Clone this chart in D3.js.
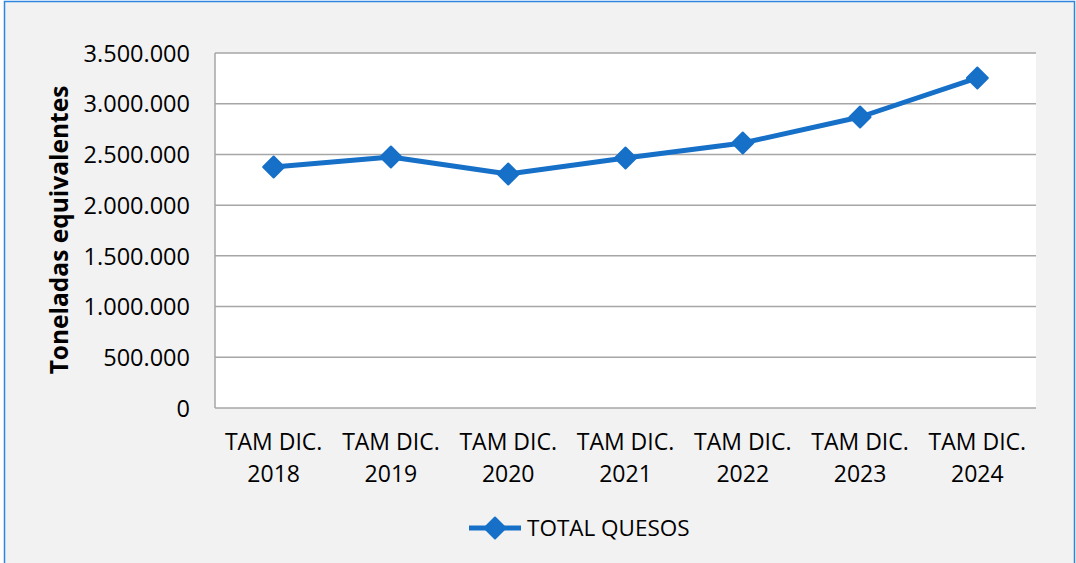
<!DOCTYPE html>
<html><head><meta charset="utf-8">
<script src="https://cdn.jsdelivr.net/npm/d3@7"></script>
<style>body{margin:0;background:#fff;}svg{display:block;}</style>
</head><body><svg id="c" width="1076" height="563"></svg>
<script>
const categories = ["TAM DIC. 2018","TAM DIC. 2019","TAM DIC. 2020","TAM DIC. 2021","TAM DIC. 2022","TAM DIC. 2023","TAM DIC. 2024"];
const values = [2376000, 2475000, 2307000, 2465000, 2613000, 2869000, 3254000];
const yTicks = [0,500000,1000000,1500000,2000000,2500000,3000000,3500000];
const seriesName = "TOTAL QUESOS";
const yTitle = "Toneladas equivalentes";

const svg = d3.select("#c");
const W=1076,H=563;
const font = "'Open Sans', sans-serif";
const blue = "#1670C8";
svg.append("rect").attr("x",0).attr("y",0).attr("width",W).attr("height",H).attr("fill","#fff");
svg.append("rect").attr("x",4.5).attr("y",1.5).attr("width",1070).attr("height",H+10)
  .attr("fill","#F2F2F2").attr("stroke","#2E86DE").attr("stroke-width",1.5);

const m={l:215,r:1036,t:53,b:408};
svg.append("rect").attr("x",m.l).attr("y",m.t).attr("width",m.r-m.l).attr("height",m.b-m.t).attr("fill","#fff");

const x = d3.scaleBand().domain(categories).range([m.l,m.r]).padding(0);
const y = d3.scaleLinear().domain([0,3500000]).range([m.b,m.t]);
const fmt = v => d3.format(",")(v).replace(/,/g,".");

// gridlines
const g = svg.append("g");
g.selectAll("line.grid").data(yTicks).join("line")
  .attr("x1",m.l).attr("x2",m.r).attr("y1",d=>y(d)).attr("y2",d=>y(d))
  .attr("stroke","#A6A6A6").attr("stroke-width",1.5);
svg.append("line").attr("x1",m.l).attr("x2",m.l).attr("y1",m.t).attr("y2",m.b)
  .attr("stroke","#A6A6A6").attr("stroke-width",1.5);

// y axis labels
const yAxis = d3.axisLeft(y).tickValues(yTicks).tickFormat(fmt).tickSize(0).tickPadding(25);
const ya = svg.append("g").attr("transform",`translate(${m.l},0)`).call(yAxis);
ya.select(".domain").remove();
ya.selectAll("text").attr("font-family",font).attr("font-size",23.5).attr("fill","#000").attr("dy","0.35em");

// x axis labels
const xa = svg.append("g");
categories.forEach(c=>{
  const parts = c.match(/^(.*)\s(\d{4})$/);
  const t = xa.append("text").attr("x",x(c)+x.bandwidth()/2).attr("text-anchor","middle")
    .attr("font-family",font).attr("font-size",23).attr("fill","#000");
  t.append("tspan").attr("x",x(c)+x.bandwidth()/2).attr("y",450).text(parts[1]);
  t.append("tspan").attr("x",x(c)+x.bandwidth()/2).attr("y",482).text(parts[2]);
});

// y title
svg.append("text").attr("transform","translate(68,230) rotate(-90)").attr("text-anchor","middle")
  .attr("font-family",font).attr("font-weight","bold").attr("font-size",24.5).attr("fill","#000").text(yTitle);

// line
const line = d3.line().x((d,i)=>x(categories[i])+x.bandwidth()/2).y(d=>y(d));
svg.append("path").datum(values).attr("d",line).attr("fill","none")
  .attr("stroke",blue).attr("stroke-width",5).attr("stroke-linejoin","round");
const diamond = d3.symbol().type(d3.symbolSquare).size(220);
svg.selectAll("path.mk").data(values).join("path")
  .attr("d",diamond()).attr("fill",blue).attr("stroke",blue).attr("stroke-width",2).attr("stroke-linejoin","round")
  .attr("transform",(d,i)=>`translate(${x(categories[i])+x.bandwidth()/2},${y(d)}) rotate(45)`);

// legend
svg.append("line").attr("x1",469).attr("x2",521).attr("y1",528).attr("y2",528)
  .attr("stroke",blue).attr("stroke-width",5);
svg.append("path").attr("d",diamond()).attr("fill",blue).attr("stroke",blue).attr("stroke-width",2).attr("stroke-linejoin","round")
  .attr("transform","translate(495,528) rotate(45)");
svg.append("text").attr("x",527).attr("y",528).attr("dy","0.35em")
  .attr("font-family",font).attr("font-size",22.5).attr("fill","#000").text(seriesName);
</script></body></html>
